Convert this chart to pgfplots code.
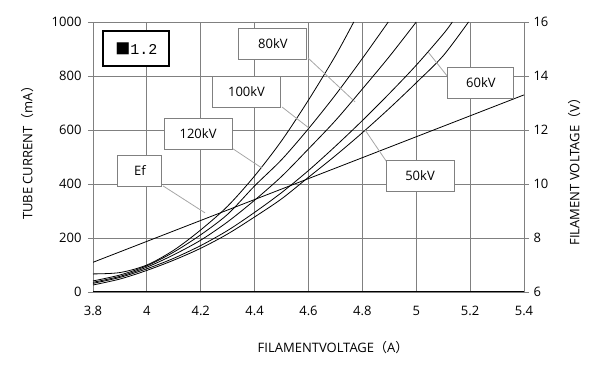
\documentclass[border=0pt]{standalone}
\usepackage{fontspec}
\setmainfont{Open Sans}
\newfontfamily\cjk{Noto Sans CJK SC}
\newfontfamily\monof{Liberation Mono}
\usepackage{pgfplots}
\pgfplotsset{compat=1.18}
\definecolor{gridc}{HTML}{808080}
\definecolor{leadc}{HTML}{A6A6A6}
\begin{document}
\begin{tikzpicture}
\path[use as bounding box] (-93bp,-84bp) rectangle (508bp,292bp);
\begin{axis}[
  at={(0,0)}, anchor=south west,
  scale only axis, width=431bp, height=270bp,
  xmin=3.8, xmax=5.4, ymin=0, ymax=1000,
  xtick={3.8,4,4.2,4.4,4.6,4.8,5,5.2,5.4},
  ytick={0,200,400,600,800,1000},
  grid=major, major grid style={draw=gridc, line width=0.9bp},
  axis line style={draw=gridc, line width=0.9bp},
  xtick pos=bottom, ytick pos=left,
  tick align=outside, major tick length=5bp,
  xtick style={draw=none}, ytick style={draw=gridc, line width=0.9bp},
  /pgf/number format/assume math mode=true,
  /pgf/number format/1000 sep={},
  tick label style={font=\fontsize{13bp}{15bp}\selectfont},
  xticklabel style={yshift=-6bp},
  yticklabel style={xshift=-3bp},
  xlabel={FILAMENTVOLTAGE{\cjk （}A{\cjk ）}},
  xlabel style={font=\fontsize{13bp}{15bp}\selectfont, at={(axis description cs:0.557,-0.204)}, anchor=center},
  ylabel={TUBE CURRENT{\cjk （}mA{\cjk ）}},
  ylabel style={font=\fontsize{13bp}{15bp}\selectfont, at={(axis description cs:-0.152,0.526)}, anchor=center, rotate=0},
]
% near-zero baseline series
\addplot[black, line width=1.3bp] coordinates {(3.8,3) (5.4,3)};
% 120 kV
\addplot[black, line width=0.8bp, smooth] coordinates {
(3.8,67) (3.9,72) (4.0,100) (4.1,155) (4.2,230) (4.3,318) (4.4,430) (4.5,560) (4.6,711) (4.7,875) (4.768,1000)};
% 100 kV
\addplot[black, line width=0.8bp, smooth] coordinates {
(3.8,41) (3.9,63) (4.0,97) (4.1,148) (4.2,212) (4.3,288) (4.4,393) (4.5,490) (4.6,605) (4.7,730) (4.8,865) (4.896,1000)};
% 80 kV
\addplot[black, line width=0.8bp, smooth] coordinates {
(3.8,36) (3.9,58) (4.0,92) (4.1,138) (4.2,192) (4.3,260) (4.4,340) (4.5,428) (4.6,530) (4.7,635) (4.8,752) (4.9,872) (5.0,1000)};
% 60 kV
\addplot[black, line width=0.8bp, smooth] coordinates {
(3.8,32) (3.9,54) (4.0,86) (4.1,125) (4.2,172) (4.3,228) (4.4,295) (4.5,368) (4.6,450) (4.7,540) (4.8,635) (4.9,735) (5.0,840) (5.1,955) (5.134,1000)};
% 50 kV
\addplot[black, line width=0.8bp, smooth] coordinates {
(3.8,26) (3.9,48) (4.0,80) (4.1,118) (4.2,162) (4.3,215) (4.4,278) (4.5,345) (4.6,425) (4.7,505) (4.8,590) (4.9,680) (5.0,775) (5.1,875) (5.194,1000)};
\end{axis}
\begin{axis}[
  at={(0,0)}, anchor=south west,
  scale only axis, width=431bp, height=270bp,
  xmin=3.8, xmax=5.4, ymin=6, ymax=16,
  axis x line=none, axis y line*=right,
  ytick={6,8,10,12,14,16},
  axis line style={draw=gridc, line width=0.9bp},
  tick align=outside, major tick length=5bp,
  ytick style={draw=gridc, line width=0.9bp},
  /pgf/number format/assume math mode=true,
  tick label style={font=\fontsize{13bp}{15bp}\selectfont},
  yticklabel style={xshift=1bp},
  ylabel={FILAMENT VOLTAGE{\cjk （}V{\cjk ）}},
  ylabel style={font=\fontsize{13bp}{15bp}\selectfont, at={(axis description cs:1.117,0.457)}, anchor=center, rotate=0},
]
% Ef
\addplot[black, line width=0.8bp] coordinates {(3.8,7.1) (5.4,13.3)};
% leaders
\draw[leadc, line width=0.8bp] (axis cs:4.598,14.67) -- (axis cs:4.773,13.04);
\draw[leadc, line width=0.8bp] (axis cs:4.502,12.85) -- (axis cs:4.602,12.07);
\draw[leadc, line width=0.8bp] (axis cs:4.320,11.30) -- (axis cs:4.427,10.59);
\draw[leadc, line width=0.8bp] (axis cs:4.060,9.93) -- (axis cs:4.216,8.93);
\draw[leadc, line width=0.8bp] (axis cs:5.118,13.96) -- (axis cs:5.044,14.89);
\draw[leadc, line width=0.8bp] (axis cs:4.891,10.81) -- (axis cs:4.810,12.00);
% boxes
\tikzset{lbl/.style={draw=gridc, fill=white, line width=0.9bp, minimum width=68bp, minimum height=31bp, inner sep=0pt, font=\fontsize{13bp}{15bp}\selectfont}}
\node[lbl] at (axis cs:4.468,15.20) {80kV};
\node[lbl] at (axis cs:4.370,13.41) {100kV};
\node[lbl] at (axis cs:4.190,11.87) {120kV};
\node[lbl, minimum width=44bp] at (axis cs:3.974,10.50) {Ef};
\node[lbl, minimum width=66bp] at (axis cs:5.240,13.76) {60kV};
\node[lbl] at (axis cs:5.014,10.30) {50kV};
\node[draw=black, fill=white, line width=2bp, minimum width=66bp, minimum height=35bp, inner sep=0pt, font=\fontsize{15bp}{17bp}\selectfont] at (axis cs:3.961,15.0) {{\cjk ■}\monof 1.2};
\end{axis}
\end{tikzpicture}
\end{document}
